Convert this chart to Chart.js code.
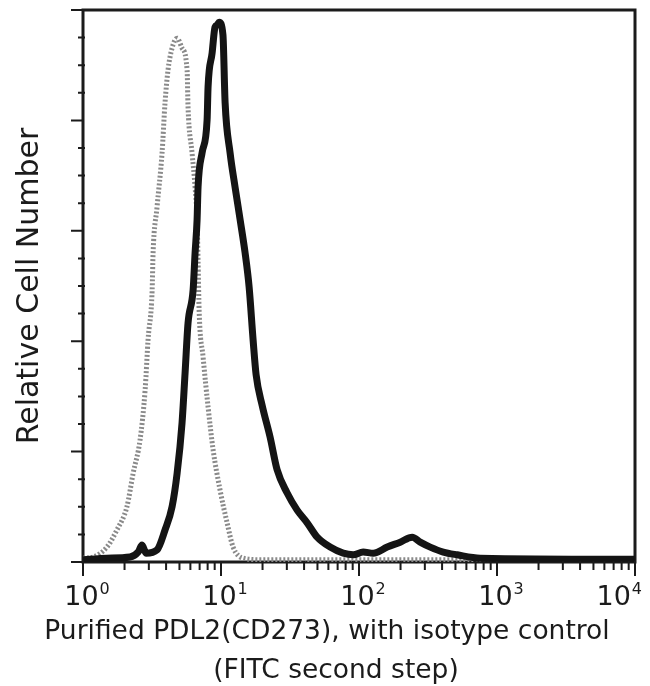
<!DOCTYPE html>
<html>
<head>
<meta charset="utf-8">
<title>PDL2 (CD273) histogram</title>
<script src="https://cdn.jsdelivr.net/npm/chart.js@4/dist/chart.umd.min.js"></script>
<style>
  html, body { margin: 0; padding: 0; background: #fff; }
  #wrap { width: 650px; height: 686px; }
</style>
</head>
<body>
<div id="wrap"><canvas id="histChart" width="650" height="686"></canvas></div>
<script>
// isotype control (grey, stippled)
const isotypeX = [1.0, 1.18, 1.49, 1.76, 2.08, 2.31, 2.59, 2.82, 2.96, 3.17, 3.22, 3.44, 3.74, 3.93, 4.13, 4.42, 4.81,
  5.22, 5.68, 5.77, 6.17, 6.49, 6.71, 6.82, 6.94, 7.42, 8.06, 8.77, 9.85, 11.07, 12.24, 14.46, 20, 100, 1000, 10000];
const isotypeY = [0.7, 0.9, 2.7, 5.8, 10.0, 16.1, 22.1, 31.2, 40.2, 49.3, 56.0, 64.3, 74.1, 83.2, 89.1, 93.1, 94.9,
  93.1, 89.1, 82.4, 74.1, 67.9, 62.0, 54.7, 45.7, 37.1, 28.1, 20.3, 13.0, 7.1, 2.7, 0.7, 0.4, 0.4, 0.4, 0.4];

// purified PDL2 (black, bold)
const pdl2X = [1.0, 1.49, 2.19, 2.51, 2.68, 2.86, 3.44, 3.93, 4.42, 4.81, 5.22, 5.49, 5.77, 6.28, 6.49, 6.71, 6.82,
  7.29, 7.93, 8.06, 8.62, 9.05, 9.37, 9.7, 10.33, 10.71, 11.64, 12.65, 13.76, 14.95, 15.99, 17.09, 17.97, 19.86,
  22.70, 25.51, 30.16, 35.63, 42.11, 49.77, 61.8, 76.8, 90.8, 107.2, 126.8, 160.1, 199.0, 243.1, 277.8, 328.3,
  407.9, 515.3, 756, 10000];
const pdl2Y = [0.4, 0.7, 0.9, 1.8, 3.1, 1.6, 2.2, 5.8, 10.0, 16.1, 25.2, 34.2, 43.3, 49.3, 56.0, 62.0, 67.9,
  74.1, 80.1, 86.1, 92.2, 96.9, 97.3, 97.8, 95.5, 83.2, 74.1, 67.9, 62.0, 56.0, 49.8, 40.2, 33.9, 28.4,
  22.6, 16.7, 12.5, 9.4, 7.1, 4.5, 2.7, 1.6, 1.3, 1.8, 1.6, 2.7, 3.6, 4.5, 3.6, 2.7,
  1.8, 1.3, 0.7, 0.5];

const decadeTicks = [1, 10, 100, 1000, 10000];
const decadeExponents = ["0", "1", "2", "3", "4"];
const yMajorTicks = [0, 20, 40, 60, 80, 100];
const yMinorTicks = [5, 10, 15, 25, 30, 35, 45, 50, 55, 65, 70, 75, 85, 90, 95];
const xTitleLines = ["Purified PDL2(CD273), with isotype control", "(FITC second step)"];
const yTitle = "Relative Cell Number";

const FONT = "'DejaVu Sans', sans-serif";
const INK = "#1b1b1b";

const toPoints = (xs, ys) => xs.map((x, i) => ({ x: x, y: ys[i] }));

// frame, tick marks and all axis text
const flowAxes = {
  id: "flowAxes",
  beforeDatasetsDraw(chart) {
    const { ctx, chartArea } = chart;
    ctx.save();
    ctx.strokeStyle = INK;
    ctx.lineWidth = 3;
    ctx.strokeRect(chartArea.left, chartArea.top, chartArea.right - chartArea.left, chartArea.bottom - chartArea.top);
    ctx.restore();
  },
  afterDraw(chart) {
    const { ctx, chartArea, scales } = chart;
    const xs = scales.x;
    const ys = scales.y;
    ctx.save();
    ctx.strokeStyle = INK;
    ctx.fillStyle = INK;
    ctx.lineWidth = 2;

    // y ticks, pointing left
    ctx.beginPath();
    yMajorTicks.forEach((v) => {
      const py = ys.getPixelForValue(v);
      ctx.moveTo(chartArea.left - 12, py);
      ctx.lineTo(chartArea.left + 1, py);
    });
    yMinorTicks.forEach((v) => {
      const py = ys.getPixelForValue(v);
      ctx.moveTo(chartArea.left - 5, py);
      ctx.lineTo(chartArea.left + 2, py);
    });
    // x ticks, pointing down
    decadeTicks.forEach((v, d) => {
      const px = xs.getPixelForValue(v);
      ctx.moveTo(px, chartArea.bottom - 1);
      ctx.lineTo(px, chartArea.bottom + 14);
      if (d < decadeTicks.length - 1) {
        for (let k = 2; k <= 9; k++) {
          const mx = xs.getPixelForValue(k * v);
          ctx.moveTo(mx, chartArea.bottom - 1);
          ctx.lineTo(mx, chartArea.bottom + 8);
        }
      }
    });
    ctx.stroke();

    // decade labels 10^n
    ctx.textBaseline = "alphabetic";
    ctx.textAlign = "left";
    decadeTicks.forEach((v, i) => {
      const px = xs.getPixelForValue(v);
      ctx.font = "27px " + FONT;
      const w1 = ctx.measureText("10").width;
      ctx.font = "16px " + FONT;
      const w2 = ctx.measureText(decadeExponents[i]).width;
      const total = w1 + w2 + 1;
      let left = px - total / 2 + 4;
      if (left + total > 642) left = 642 - total;
      ctx.font = "27px " + FONT;
      ctx.fillText("10", left, chartArea.bottom + 43);
      ctx.font = "16px " + FONT;
      ctx.fillText(decadeExponents[i], left + w1 + 1, chartArea.bottom + 32);
    });

    // x title, two lines
    const mid = (chartArea.left + chartArea.right) / 2;
    ctx.textAlign = "center";
    ctx.font = "26.5px " + FONT;
    ctx.fillText(xTitleLines[0], mid - 32, chartArea.bottom + 77);
    ctx.fillText(xTitleLines[1], mid - 23, chartArea.bottom + 116);

    // y title, rotated
    ctx.font = "30px " + FONT;
    ctx.translate(38, (chartArea.top + chartArea.bottom) / 2);
    ctx.rotate(-Math.PI / 2);
    ctx.fillText(yTitle, 0, 0);
    ctx.restore();
  },
};

function init() {
  const ctx = document.getElementById("histChart");
  new Chart(ctx, {
    type: "line",
    data: {
      datasets: [
        {
          label: "Purified PDL2 (CD273)",
          data: toPoints(pdl2X, pdl2Y),
          borderColor: "#141414",
          borderWidth: 7,
          pointRadius: 0,
          cubicInterpolationMode: "monotone",
          fill: false,
        },
        {
          label: "Isotype control",
          data: toPoints(isotypeX, isotypeY),
          borderColor: "#8a8a8a",
          borderWidth: 5,
          borderDash: [2, 2],
          pointRadius: 0,
          cubicInterpolationMode: "monotone",
          fill: false,
        },
      ],
    },
    options: {
      responsive: false,
      animation: false,
      devicePixelRatio: 1,
      layout: { padding: { left: 83, right: 15, top: 10, bottom: 124 } },
      scales: {
        x: { type: "logarithmic", min: 1, max: 10000, display: false },
        y: { type: "linear", min: 0, max: 100, display: false },
      },
      plugins: {
        legend: { display: false },
        tooltip: { enabled: false },
      },
    },
    plugins: [flowAxes],
  });
}

init();
</script>
</body>
</html>
